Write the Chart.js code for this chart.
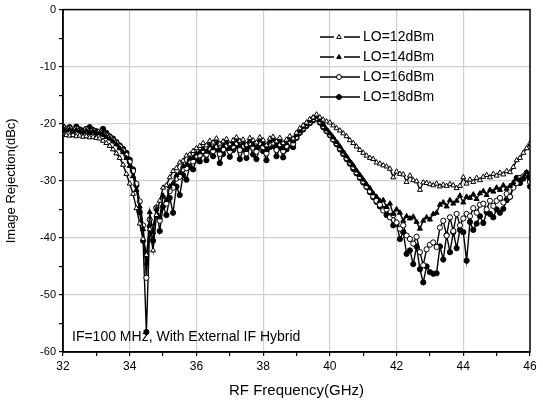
<!DOCTYPE html>
<html>
<head>
<meta charset="utf-8">
<script src="https://cdn.jsdelivr.net/npm/chart.js@4"></script>
<style>
  html, body { margin: 0; padding: 0; background: #fff; }
  #wrap { width: 543px; height: 400px; position: relative; }
</style>
</head>
<body>
<div id="wrap"><canvas id="grafico"></canvas></div>
<script>
// Frequency grid (GHz), one sample every 0.1 GHz from 32 to 46
const frequencias = Array.from({ length: 141 }, (_, i) => +(32 + i * 0.1).toFixed(1));

const serieLO12 = [
  -21.8, -22.0, -22.1, -22.0, -22.2, -22.1, -22.3, -22.2, -22.4, -22.3,
  -22.5, -22.6, -23.0, -23.4, -23.9, -24.5, -25.2, -26.0, -27.2, -28.8,
  -30.5, -32.3, -34.8, -37.5, -40.2, -43.0, -38.5, -42.2, -36.0, -33.5,
  -31.2, -30.8, -29.4, -28.3, -27.8, -26.8, -26.5, -25.6, -25.4, -24.8,
  -24.3, -23.9, -23.4, -23.8, -23.0, -23.3, -22.6, -23.5, -23.1, -22.7,
  -23.6, -22.9, -22.4, -23.0, -22.8, -23.7, -22.5, -22.9, -23.3, -22.4,
  -22.9, -23.8, -22.6, -22.3, -23.1, -22.5, -23.4, -22.8, -22.2, -22.6,
  -21.6, -20.8, -20.3, -19.8, -19.2, -18.9, -18.4, -18.9, -19.3, -19.6,
  -19.8, -20.3, -20.8, -21.2, -21.7, -22.2, -22.9, -23.4, -24.0, -24.6,
  -25.1, -25.6, -26.0, -26.2, -26.8, -27.0, -27.3, -27.5, -27.9, -29.4,
  -28.4, -28.8, -28.9, -30.2, -29.1, -29.9, -30.1, -31.6, -30.3, -30.4,
  -30.6, -30.8, -30.5, -31.0, -30.7, -30.9, -30.6, -30.8, -31.3, -30.9,
  -29.4, -30.5, -29.8, -30.2, -29.5, -29.9, -29.3, -29.0, -29.4, -28.8,
  -29.1, -28.6, -28.9, -28.3, -28.5, -27.6, -26.4, -26.0, -25.1, -24.3,
  -23.4
];

const serieLO14 = [
  -20.8, -21.2, -21.0, -21.4, -21.1, -21.3, -21.5, -21.2, -21.6, -21.3,
  -21.7, -21.6, -21.9, -22.3, -22.6, -23.1, -23.6, -24.3, -25.0, -26.0,
  -27.4, -29.2, -31.6, -34.5, -38.5, -44.5, -35.5, -39.0, -35.0, -36.4,
  -32.6, -33.4, -31.0, -30.4, -29.0, -28.6, -27.4, -27.2, -26.1, -26.0,
  -25.2, -25.0, -24.4, -24.9, -23.8, -24.3, -23.4, -24.7, -23.9, -23.3,
  -24.4, -23.6, -22.9, -23.9, -23.4, -24.6, -23.0, -23.7, -24.2, -22.9,
  -23.6, -24.6, -23.1, -22.8, -23.9, -23.1, -24.3, -23.4, -22.8, -23.1,
  -22.0, -21.3, -20.6, -20.1, -19.5, -19.0, -18.8, -19.4, -20.2, -21.0,
  -21.7, -22.4, -23.2, -24.0, -24.9, -25.7, -26.6, -27.3, -28.2, -29.0,
  -29.8, -30.6, -31.3, -32.2, -32.8, -33.5, -33.4, -34.6, -34.0, -35.8,
  -35.0, -35.6, -37.0, -36.2, -36.6, -36.3, -37.2, -38.4, -37.0, -36.4,
  -36.8, -35.8, -35.6, -34.2, -33.8, -34.5, -33.4, -34.0, -33.5, -32.6,
  -33.8, -32.8, -33.0, -32.4, -33.2, -32.2, -31.8, -32.5, -31.6, -31.9,
  -31.2, -31.6, -30.8, -31.4, -30.9, -30.3, -29.6, -29.9, -29.4, -28.5,
  -29.6
];

const serieLO16 = [
  -20.6, -21.0, -20.8, -21.3, -20.9, -21.2, -21.4, -21.0, -21.5, -21.2,
  -21.6, -21.4, -21.8, -22.1, -22.4, -22.9, -23.4, -24.0, -24.7, -25.5,
  -26.7, -28.3, -30.5, -33.6, -37.8, -47.0, -36.8, -38.2, -34.8, -37.0,
  -33.5, -34.0, -31.8, -31.2, -29.6, -29.3, -28.0, -27.8, -26.6, -26.6,
  -25.6, -25.5, -24.8, -25.4, -24.3, -24.8, -23.9, -25.3, -24.5, -23.8,
  -24.9, -24.0, -23.4, -24.6, -23.9, -25.2, -23.4, -24.2, -24.9, -23.4,
  -24.1, -25.2, -23.5, -23.3, -24.6, -23.6, -24.8, -23.9, -23.3, -23.5,
  -22.3, -21.4, -20.8, -20.2, -19.7, -19.2, -19.0, -19.6, -20.4, -21.2,
  -21.9, -22.7, -23.4, -24.3, -25.1, -26.0, -26.8, -27.6, -28.5, -29.3,
  -30.1, -31.0, -31.8, -32.7, -33.5, -34.2, -35.2, -35.0, -36.4, -36.0,
  -37.3, -38.4, -37.8, -39.6, -40.2, -41.0, -39.8, -42.5, -44.8, -42.0,
  -41.2, -40.8, -41.6, -38.2, -37.0, -39.6, -36.4, -38.8, -35.8, -37.8,
  -36.6, -35.8, -36.2, -34.8, -35.6, -34.2, -34.0, -35.0, -33.5, -34.4,
  -33.5, -33.0, -33.8, -32.3, -32.8, -31.2, -30.4, -29.5, -29.2, -28.6,
  -30.2
];

const serieLO18 = [
  -20.5, -20.9, -20.6, -21.2, -20.5, -21.0, -21.2, -20.9, -20.6, -21.1,
  -21.3, -21.5, -20.9, -21.6, -22.2, -22.6, -23.2, -23.8, -24.4, -25.1,
  -26.3, -28.0, -30.8, -35.5, -40.5, -56.5, -38.0, -40.5, -34.7, -38.8,
  -34.5, -36.0, -33.0, -35.6, -31.0, -32.5, -29.0, -29.8, -27.5, -28.0,
  -26.3, -26.6, -25.2, -26.4, -24.9, -25.7, -24.4, -26.9, -25.3, -24.3,
  -25.8, -24.6, -23.9, -26.2, -24.5, -26.0, -23.9, -25.4, -26.2, -24.0,
  -24.8, -26.4, -24.1, -23.9, -25.7, -24.2, -25.9, -24.5, -23.8, -24.1,
  -22.5, -21.6, -21.0, -20.4, -19.9, -19.4, -19.1, -19.8, -20.6, -21.3,
  -22.0, -22.8, -23.6, -24.5, -25.3, -26.2, -27.0, -27.9, -28.7, -29.5,
  -30.3, -31.1, -32.0, -32.9, -33.7, -34.5, -34.9, -36.0, -36.2, -37.8,
  -37.5, -40.2, -39.0, -42.8, -42.2, -44.6, -41.5, -45.5, -47.8, -45.0,
  -46.0, -46.3, -46.2, -41.5, -43.8, -39.5, -42.5, -39.0, -41.8, -38.6,
  -39.0, -44.0, -37.2, -38.6, -37.5, -36.2, -37.4, -35.5, -35.8, -36.4,
  -35.0, -35.6, -34.9, -33.4, -32.8, -31.0, -29.5, -30.4, -29.6, -29.0,
  -31.0
];

const rotulosSeries = ['LO=12dBm', 'LO=14dBm', 'LO=16dBm', 'LO=18dBm'];
const ticksX = [32, 34, 36, 38, 40, 42, 44, 46];
const ticksY = [0, -10, -20, -30, -40, -50, -60];
const anotacao = 'IF=100 MHz, With External IF Hybrid';

const FONTE = "'Liberation Sans', Arial, sans-serif";

const montarPontos = (valores) => valores.map((v, i) => ({ x: frequencias[i], y: v }));

const estilos = [
  { estilo: 'triangle', preenchimento: '#fff' },
  { estilo: 'triangle', preenchimento: '#000' },
  { estilo: 'circle', preenchimento: '#fff' },
  { estilo: 'circle', preenchimento: '#000' }
];

const series = [serieLO12, serieLO14, serieLO16, serieLO18];

const datasets = series.map((valores, i) => ({
  label: rotulosSeries[i],
  data: montarPontos(valores),
  borderColor: '#000',
  borderWidth: 1.4,
  pointStyle: estilos[i].estilo,
  pointRadius: estilos[i].estilo === 'triangle' ? 2.9 : 2.6,
  pointBorderWidth: 1,
  pointBorderColor: '#000',
  pointBackgroundColor: estilos[i].preenchimento,
  tension: 0,
  fill: false
}));

// Frame, legend and annotation
const pluginExtras = {
  id: 'extras',
  afterDatasetsDraw(chart) {
    const { ctx, chartArea: a } = chart;
    ctx.save();
    ctx.strokeStyle = '#000';
    ctx.lineWidth = 1.5;
    ctx.strokeRect(a.left, a.top, a.right - a.left, a.bottom - a.top);

    // legend
    ctx.font = `14px ${FONTE}`;
    ctx.textBaseline = 'middle';
    ctx.textAlign = 'left';
    const x0 = 320, x1 = 360, xm = 339;
    rotulosSeries.forEach((rot, i) => {
      const y = 37 + i * 20;
      ctx.strokeStyle = '#000';
      ctx.lineWidth = 1.4;
      ctx.beginPath();
      if (estilos[i].estilo === 'triangle') {
        ctx.moveTo(x0, y); ctx.lineTo(xm - 5, y);
        ctx.moveTo(xm + 5, y); ctx.lineTo(x1, y);
      } else {
        ctx.moveTo(x0, y); ctx.lineTo(x1, y);
      }
      ctx.stroke();
      ctx.fillStyle = estilos[i].preenchimento;
      ctx.lineWidth = 1;
      ctx.beginPath();
      if (estilos[i].estilo === 'triangle') {
        ctx.moveTo(xm, y - 2.5); ctx.lineTo(xm + 2.3, y + 1.5); ctx.lineTo(xm - 2.3, y + 1.5); ctx.closePath();
      } else {
        ctx.arc(xm, y, 2.5, 0, Math.PI * 2);
      }
      ctx.fill(); ctx.stroke();
      ctx.fillStyle = '#000';
      ctx.fillText(rot, 363, y);
    });

    ctx.font = `14px ${FONTE}`;
    ctx.textBaseline = 'alphabetic';
    ctx.fillText(anotacao, a.left + 9, a.bottom - 11);
    ctx.restore();
  }
};

new Chart(document.getElementById('grafico'), {
  type: 'line',
  data: { datasets },
  plugins: [pluginExtras],
  options: {
    responsive: true,
    maintainAspectRatio: false,
    animation: false,
    layout: { padding: { left: 0, right: 13, top: 8, bottom: 0 } },
    plugins: { legend: { display: false }, tooltip: { enabled: false } },
    scales: {
      x: {
        type: 'linear',
        min: 32,
        max: 46,
        afterFit: (s) => { s.height = 48; },
        afterBuildTicks: (s) => {
          const t = [];
          for (let v = 32; v <= 46; v++) t.push({ value: v });
          s.ticks = t;
        },
        ticks: {
          color: '#000',
          font: { size: 12, family: FONTE },
          padding: 3,
          maxRotation: 0,
          autoSkip: false,
          callback: (v) => (ticksX.includes(v) ? String(v) : '')
        },
        grid: {
          color: (c) => (c.tick && ticksX.includes(c.tick.value) && c.tick.value !== 32 && c.tick.value !== 46 ? '#cfcfcf' : 'rgba(0,0,0,0)'),
          tickColor: '#000',
          tickLength: 4,
          lineWidth: 1.2
        },
        border: { color: '#000', width: 1.5 },
        title: {
          display: true,
          text: 'RF Frequency(GHz)',
          color: '#000',
          font: { size: 15, family: FONTE },
          padding: { top: 1, bottom: 0 }
        }
      },
      y: {
        type: 'linear',
        min: -60,
        max: 0,
        afterFit: (s) => { s.width = 63; },
        afterBuildTicks: (s) => {
          const t = [];
          for (let v = -60; v <= 0; v += 5) t.push({ value: v });
          s.ticks = t;
        },
        ticks: {
          color: '#000',
          font: { size: 11, family: FONTE },
          padding: 3,
          autoSkip: false,
          callback: (v) => (ticksY.includes(v) ? String(v) : '')
        },
        grid: {
          color: (c) => (c.tick && ticksY.includes(c.tick.value) && c.tick.value !== 0 && c.tick.value !== -60 ? '#cfcfcf' : 'rgba(0,0,0,0)'),
          tickColor: '#000',
          tickLength: 4,
          lineWidth: 1.2
        },
        border: { color: '#000', width: 1.5 },
        title: {
          display: true,
          text: 'Image Rejection(dBc)',
          color: '#000',
          font: { size: 13, family: FONTE },
          padding: { top: 4, bottom: 0 }
        }
      }
    }
  }
});
</script>
</body>
</html>
